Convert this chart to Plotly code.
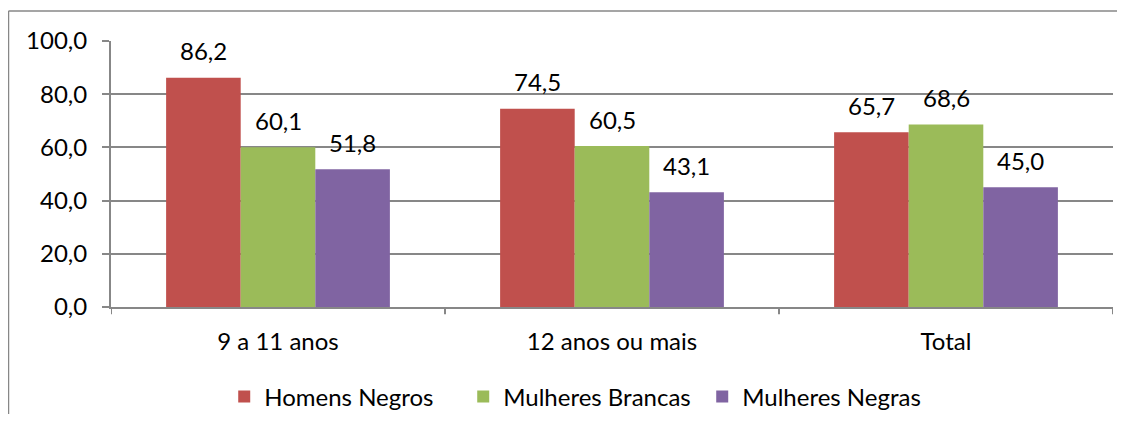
import plotly.graph_objects as go

categories = ["9 a 11 anos", "12 anos ou mais", "Total"]
series_names = ["Homens Negros", "Mulheres Brancas", "Mulheres Negras"]
homens_negros = [86.2, 74.5, 65.7]
mulheres_brancas = [60.1, 60.5, 68.6]
mulheres_negras = [51.8, 43.1, 45.0]
y_ticks = [0, 20, 40, 60, 80, 100]
y_tick_labels = ["0,0", "20,0", "40,0", "60,0", "80,0", "100,0"]

colors = ["#C0504D", "#9BBB59", "#8064A2"]
values = [homens_negros, mulheres_brancas, mulheres_negras]
FONT = "Lato"
FS = 24
GRAY = "#878787"

bargap = 0.33
fig = go.Figure()
for name, vals, c in zip(series_names, values, colors):
    fig.add_trace(go.Bar(x=list(range(len(categories))), y=vals, name=name, marker_color=c,
                         marker_line_width=0))

def fmt(v):
    return f"{v:.1f}".replace(".", ",")

bw = (1 - bargap) / 3
annotations = []
for si, vals in enumerate(values):
    for ci, v in enumerate(vals):
        annotations.append(dict(x=ci + (si - 1) * bw, y=v, text=fmt(v), showarrow=False,
                                yanchor="middle", yshift=27, xref="x", yref="y",
                                font=dict(family=FONT, size=FS, color="#000")))

fig.update_layout(
    width=1109, height=406,
    margin=dict(l=103, r=4, t=33, b=107, autoexpand=False),
    paper_bgcolor="white", plot_bgcolor="white",
    barmode="group", bargap=bargap, bargroupgap=0,
    font=dict(family=FONT, size=FS, color="#000"),
    annotations=annotations,
    legend=dict(orientation="h", x=0.113, xanchor="left", y=-0.338, yanchor="middle",
                font=dict(family=FONT, size=FS), itemwidth=30, tracegroupgap=0,
                entrywidth=194, entrywidthmode="pixels"),
    xaxis=dict(tickmode="array", tickvals=[0, 1, 2], ticktext=categories,
               range=[-0.5, 2.5], showgrid=False, showline=True, linecolor=GRAY, linewidth=2,
               ticks="", zeroline=False, ticklabelstandoff=12),
    yaxis=dict(range=[0, 100], tickvals=y_ticks, ticktext=y_tick_labels,
               showgrid=True, gridcolor=GRAY, gridwidth=2, showline=True, linecolor=GRAY,
               linewidth=2, ticks="outside", ticklen=7, tickcolor=GRAY, tickwidth=2,
               zeroline=False, ticklabelstandoff=10),
    showlegend=True,
)
# category boundary ticks on the x axis
for xb in [-0.5, 0.5, 1.5, 2.5]:
    fig.add_shape(type="line", xref="x", yref="paper", x0=xb, x1=xb, y0=0, y1=-0.027,
                  line=dict(color=GRAY, width=2))
# outer chart border (left and top edges visible)
fig.add_shape(type="line", xref="paper", yref="paper", x0=-0.1023, x1=-0.1023, y0=1.113, y1=-0.45,
              line=dict(color=GRAY, width=1.5))
fig.add_shape(type="line", xref="paper", yref="paper", x0=-0.1023, x1=1.1, y0=1.113, y1=1.113,
              line=dict(color=GRAY, width=1.5))
fig.write_html("out.html")
